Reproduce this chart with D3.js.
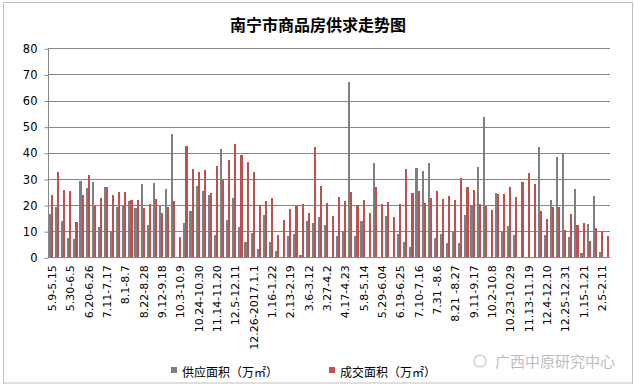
<!DOCTYPE html>
<html>
<head>
<meta charset="utf-8">
<script src="https://cdn.jsdelivr.net/npm/d3@7"></script>
<style>
  body { margin: 0; background: #fff; }
  svg { display: block; }
</style>
</head>
<body>
<div id="chart"></div>
<script>
const weeks = [
  "5.9-5.15", "5.16-5.22", "5.23-5.29", "5.30-6.5", "6.6-6.12", "6.13-6.19",
  "6.20-6.26", "6.27-7.3", "7.4-7.10", "7.11-7.17", "7.18-7.24", "7.25-7.31",
  "8.1-8.7", "8.8-8.14", "8.15-8.21", "8.22-8.28", "8.29-9.4", "9.5-9.11",
  "9.12-9.18", "9.19-9.25", "9.26-10.2", "10.3-10.9", "10.10-10.16", "10.17-10.23",
  "10.24-10.30", "10.31-11.6", "11.7-11.13", "11.14-11.20", "11.21-11.27", "11.28-12.4",
  "12.5-12.11", "12.12-12.18", "12.19-12.25", "12.26-2017.1.1", "1.2-1.8", "1.9-1.15",
  "1.16-1.22", "1.23-1.29", "2.6-2.12", "2.13-2.19", "2.20-2.26", "2.27-3.5",
  "3.6-3.12", "3.13-3.19", "3.20-3.26", "3.27-4.2", "4.3-4.9", "4.10-4.16",
  "4.17-4.23", "4.24-4.30", "5.1-5.7", "5.8-5.14", "5.15-5.21", "5.22-5.28",
  "5.29-6.04", "6.5-6.11", "6.12-6.18", "6.19-6.25", "6.26-7.2", "7.3-7.9",
  "7.10-7.16", "7.17-7.23", "7.24-7.30", "7.31 -8.6", "8.7-8.13", "8.14-8.20",
  "8.21 -8.27", "8.28-9.3", "9.4-9.10", "9.11-9.17", "9.18-9.24", "9.25-10.1",
  "10.2-10.8", "10.9-10.15", "10.16-10.22", "10.23-10.29", "10.30-11.5", "11.6-11.12",
  "11.13-11.19", "11.20-11.26", "11.27-12.3", "12.4-12.10", "12.11-12.17", "12.18-12.24",
  "12.25-12.31", "2018.1.1-1.7", "1.8-1.14", "1.15-1.21", "1.22-1.28", "1.29-2.4",
  "2.5-2.11", "2.12-2.18"
];

// 供应面积（万㎡）
const supply = [
  16.6, 19.3, 13.9, 7.4, 7.0, 29.2, 26.5, 28.8, 11.6, 26.9, 10.1, 19.3,
  20.0, 21.6, 18.9, 28.1, 12.4, 28.5, 20.0, 26.2, 47.2, 0, 13.1, 17.7,
  27.3, 25.4, 23.9, 8.5, 41.5, 14.3, 22.7, 11.6, 5.9, 9.3, 3.2, 16.2,
  5.9, 2.4, 0, 8.2, 8.9, 0.9, 13.9, 13.1, 15.4, 12.4, 0, 8.2,
  10.1, 67.2, 8.2, 13.9, 0, 36.1, 0, 15.8, 0, 8.9, 5.9, 3.9,
  34.2, 33.1, 36.1, 7.4, 8.9, 5.5, 10.1, 5.5, 16.2, 20.0, 34.6, 53.7,
  0, 24.6, 10.1, 12.0, 8.5, 0, 0, 0, 42.3, 8.5, 21.9, 38.4,
  39.6, 7.7, 26.2, 1.6, 12.7, 23.5, 2.0, 0
];

// 成交面积（万㎡）
const deal = [
  23.9, 32.7, 25.8, 25.4, 13.5, 23.9, 31.5, 19.6, 22.7, 26.9, 23.9, 25.0,
  25.0, 21.9, 21.9, 18.9, 20.4, 22.3, 17.0, 19.3, 21.6, 7.7, 42.6, 33.8,
  32.7, 33.4, 24.6, 35.0, 29.6, 37.3, 43.4, 39.2, 36.5, 32.7, 20.0, 21.6,
  22.7, 8.5, 14.3, 18.5, 19.6, 20.4, 17.0, 42.3, 27.3, 20.8, 15.8, 23.1,
  21.6, 25.0, 20.0, 21.9, 17.0, 26.9, 20.4, 21.2, 15.4, 20.4, 33.8, 24.6,
  25.4, 20.8, 22.7, 25.4, 22.3, 23.5, 21.9, 30.4, 26.9, 25.8, 20.4, 19.6,
  18.1, 24.2, 24.2, 26.9, 23.1, 28.8, 32.3, 28.1, 17.7, 14.7, 19.3, 19.3,
  10.5, 16.6, 12.4, 13.1, 6.2, 11.2, 10.1, 8.2
];

const yTicks = [0, 10, 20, 30, 40, 50, 60, 70, 80];
const seriesNames = ["供应面积（万㎡）", "成交面积（万㎡）"];
const seriesColors = ["#7f7f7f", "#c0504d"];

const width = 634, height = 389;
const margin = { top: 48, right: 24, bottom: 132, left: 48 };

const svg = d3.select("#chart")
  .append("svg")
  .attr("width", width)
  .attr("height", height);

svg.append("rect").attr("width", width).attr("height", height).attr("fill", "#fff");

// chart frame
svg.append("rect")
  .attr("x", 3.5).attr("y", 2.5)
  .attr("width", 629).attr("height", 380.5)
  .attr("fill", "none")
  .attr("stroke", "#bfbfbf");

const x = d3.scaleBand()
  .domain(weeks)
  .range([margin.left, width - margin.right])
  .paddingInner(0.31)
  .paddingOuter(0.155);

const x1 = d3.scaleBand()
  .domain([0, 1])
  .range([0, x.bandwidth()]);

const y = d3.scaleLinear()
  .domain([0, 80])
  .range([height - margin.bottom + 0.3, margin.top + 0.3]);

// gridlines
svg.append("g")
  .selectAll("line")
  .data(yTicks)
  .join("line")
  .attr("x1", margin.left)
  .attr("x2", width - margin.right)
  .attr("y1", d => Math.round(y(d)) + 0.5)
  .attr("y2", d => Math.round(y(d)) + 0.5)
  .attr("stroke", "#868686");

// y axis
const yAxis = svg.append("g")
  .attr("transform", `translate(${margin.left + 0.5},0.5)`)
  .call(d3.axisLeft(y).tickValues(yTicks).tickSize(4).tickPadding(7));
yAxis.selectAll("path, line").attr("stroke", "#868686");
yAxis.select(".domain").attr("d", `M0,${Math.round(y(80))}V${Math.round(y(0))}`);
yAxis.selectAll("text")
  .attr("font-family", "DejaVu Sans, sans-serif")
  .attr("font-size", "11.5px")
  .attr("fill", "#000");

// bars
const rows = weeks.map((w, i) => ({ week: w, values: [supply[i], deal[i]] }));

svg.append("g")
  .selectAll("g")
  .data(rows)
  .join("g")
  .attr("transform", d => `translate(${x(d.week)},0)`)
  .selectAll("rect")
  .data(d => d.values.map((v, k) => ({ k, v })))
  .join("rect")
  .attr("x", d => x1(d.k))
  .attr("width", x1.bandwidth())
  .attr("y", d => y(d.v))
  .attr("height", d => y(0) - y(d.v))
  .attr("fill", d => seriesColors[d.k])
  .attr("shape-rendering", "crispEdges");

// x axis line
svg.append("line")
  .attr("x1", margin.left)
  .attr("x2", width - margin.right)
  .attr("y1", Math.round(y(0)) + 0.5)
  .attr("y2", Math.round(y(0)) + 0.5)
  .attr("stroke", "#868686");

// x labels, every third week
svg.append("g")
  .selectAll("text")
  .data(weeks.filter((w, i) => i % 3 === 0))
  .join("text")
  .attr("transform", d => `translate(${x(d) + x.bandwidth() / 2 + 5},${y(0) + 8}) rotate(-90)`)
  .attr("text-anchor", "end")
  .attr("font-family", "DejaVu Sans, sans-serif")
  .attr("font-size", "11px")
  .attr("fill", "#000")
  .text(d => d);

// title
svg.append("text")
  .attr("x", 318).attr("y", 31)
  .attr("text-anchor", "middle")
  .attr("font-family", "Noto Sans CJK SC, sans-serif")
  .attr("font-weight", "bold")
  .attr("font-size", "16px")
  .attr("fill", "#000")
  .text("南宁市商品房供求走势图");

// legend
const legendX = [171, 329];
seriesNames.forEach((name, k) => {
  svg.append("rect")
    .attr("x", legendX[k]).attr("y", 367)
    .attr("width", 6).attr("height", 6)
    .attr("fill", seriesColors[k]);
  svg.append("text")
    .attr("x", legendX[k] + 11).attr("y", 377)
    .attr("font-family", "Noto Sans CJK SC, sans-serif")
    .attr("font-size", "12px")
    .attr("fill", "#000")
    .text(name);
});

// watermark
svg.append("circle")
  .attr("cx", 480).attr("cy", 361).attr("r", 6)
  .attr("fill", "none").attr("stroke", "#c8c8c8").attr("stroke-width", 1.2);
svg.append("text")
  .attr("x", 495).attr("y", 367)
  .attr("font-family", "Noto Sans CJK SC, sans-serif")
  .attr("font-size", "15px")
  .attr("fill", "#bdbdbd")
  .text("广西中原研究中心");
</script>
</body>
</html>
